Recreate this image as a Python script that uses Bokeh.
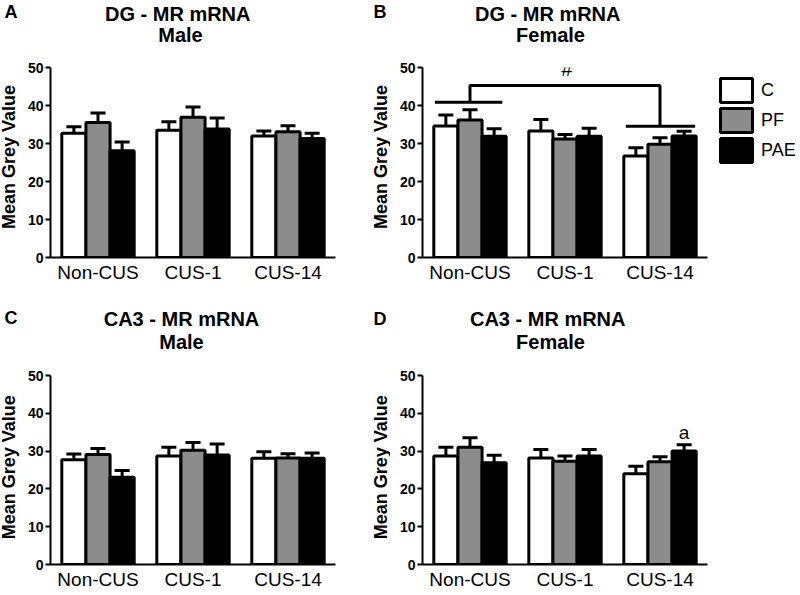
from bokeh.plotting import figure
from bokeh.models import (ColumnDataSource, Whisker, TeeHead, Label, Legend, LegendItem,
                          FactorRange, Spacer)
from bokeh.transform import dodge
from bokeh.layouts import row, column
from bokeh.embed import file_html
from bokeh.resources import INLINE

# ---------------- data ----------------
categories = ["Non-CUS", "CUS-1", "CUS-14"]
groups = ["C", "PF", "PAE"]
y_ticks = [0, 10, 20, 30, 40, 50]

# Panel A: DG - MR mRNA, Male
A_C = [32.7, 33.5, 32.0]
A_C_sem = [1.7, 2.2, 1.3]
A_PF = [35.5, 36.9, 33.1]
A_PF_sem = [2.5, 2.7, 1.6]
A_PAE = [28.1, 33.8, 31.3]
A_PAE_sem = [2.3, 2.9, 1.4]

# Panel B: DG - MR mRNA, Female
B_C = [34.6, 33.3, 26.7]
B_C_sem = [2.9, 3.0, 2.2]
B_PF = [36.2, 31.2, 29.8]
B_PF_sem = [2.7, 1.2, 1.7]
B_PAE = [31.9, 31.9, 32.0]
B_PAE_sem = [2.0, 2.1, 1.2]

# Panel C: CA3 - MR mRNA, Male
C_C = [27.7, 28.7, 28.1]
C_C_sem = [1.5, 2.3, 1.7]
C_PF = [29.1, 30.2, 28.2]
C_PF_sem = [1.6, 2.1, 1.1]
C_PAE = [23.1, 29.0, 28.1]
C_PAE_sem = [1.8, 2.9, 1.4]

# Panel D: CA3 - MR mRNA, Female
D_C = [28.7, 28.2, 24.0]
D_C_sem = [2.3, 2.2, 2.0]
D_PF = [31.0, 27.3, 27.2]
D_PF_sem = [2.5, 1.4, 1.3]
D_PAE = [26.9, 28.7, 30.0]
D_PAE_sem = [2.0, 1.7, 1.7]

FONT = "Liberation Sans"
COLORS = {"C": "white", "PF": "#8c8c8c", "PAE": "black"}
OFFSETS = {"C": -0.254, "PF": 0.0, "PAE": 0.254}
BAR_W = 0.254


def blank_fig(width, height):
    f = figure(width=width, height=height, x_range=(0, width), y_range=(height, 0),
               output_backend="svg", toolbar_location=None,
               x_axis_location=None, y_axis_location=None,
               min_border_left=0, min_border_right=0, min_border_top=0,
               min_border_bottom=0)
    f.outline_line_color = None
    f.grid.grid_line_color = None
    return f


def text(fig, x, y, t, size, bold=False, align="left", angle=0.0):
    fig.add_layout(Label(x=x, y=y, text=t, text_align=align,
                         text_baseline="middle", text_font=FONT,
                         text_font_style="bold" if bold else "normal",
                         text_font_size=f"{size}px", text_color="black",
                         angle=angle))


def make_header(width, height, letter, letter_x, letter_y, title1, title2,
                title_x, t1_y, t2_y):
    h = blank_fig(width, height)
    text(h, letter_x, letter_y, letter, 18, bold=True)
    text(h, title_x, t1_y, title1, 20, bold=True, align="center")
    text(h, title_x, t2_y, title2, 20, bold=True, align="center")
    return h


def make_ylabel(width, height, x_center, y_center):
    f = blank_fig(width, height)
    text(f, x_center, y_center, "Mean Grey Value", 18, bold=True,
         align="center", angle=1.5708)
    return f


def bar_sources(series):
    out = {}
    for g in groups:
        mean, sem = series[g]
        out[g] = ColumnDataSource(dict(cat=categories, mean=mean,
                                       upper=[m + s for m, s in zip(mean, sem)]))
    return out


def make_panel(srcs, width, height, b_left, b_right, b_top, b_bottom):
    p = figure(x_range=FactorRange(*categories), y_range=(0, 50),
               width=width, height=height, output_backend="svg",
               toolbar_location=None, min_border_left=b_left,
               min_border_right=b_right, min_border_top=b_top,
               min_border_bottom=b_bottom)
    p.outline_line_color = None
    p.grid.grid_line_color = None

    for g in groups:
        src = srcs[g]
        p.vbar(x=dodge("cat", OFFSETS[g], range=p.x_range), top="mean",
               width=BAR_W, source=src, fill_color=COLORS[g],
               line_color="black", line_width=3)
        w = Whisker(source=src, base=dodge("cat", OFFSETS[g], range=p.x_range),
                    lower="mean", upper="upper", dimension="height",
                    line_width=3, line_color="black",
                    upper_head=TeeHead(size=15, line_width=3, line_color="black"),
                    lower_head=None)
        p.add_layout(w)

    p.yaxis.ticker = y_ticks
    p.yaxis.major_label_text_font = FONT
    p.yaxis.major_label_text_font_style = "bold"
    p.yaxis.major_label_text_font_size = "14px"
    p.yaxis.major_label_text_color = "black"
    p.yaxis.major_label_standoff = 2
    p.yaxis.major_tick_out = 5
    p.yaxis.major_tick_in = 0
    p.yaxis.minor_tick_out = 0
    p.yaxis.minor_tick_in = 0
    p.yaxis.axis_line_width = 2
    p.yaxis.major_tick_line_width = 2

    p.xaxis.major_label_text_font = FONT
    p.xaxis.major_label_text_font_size = "19px"
    p.xaxis.major_label_text_color = "black"
    p.xaxis.major_label_standoff = 4
    p.xaxis.major_tick_out = 0
    p.xaxis.major_tick_in = 0
    p.xaxis.axis_line_width = 2
    return p


def make_legend_fig(srcs, width, height):
    # key box: renderers share panel B's data, but this view's single factor
    # matches none of the categories, so only the legend swatches are drawn
    f = figure(width=width, height=height, x_range=FactorRange("key"),
               y_range=(0, 50), output_backend="svg", toolbar_location=None,
               x_axis_location=None, y_axis_location=None,
               min_border_left=0, min_border_right=0, min_border_top=0,
               min_border_bottom=0)
    f.outline_line_color = None
    f.grid.grid_line_color = None
    items = []
    for g in groups:
        r = f.vbar(x="cat", top="mean", width=BAR_W, source=srcs[g],
                   fill_color=COLORS[g], line_color="black", line_width=3)
        items.append(LegendItem(label=g, renderers=[r]))
    lg = Legend(items=items, location="top_left", glyph_width=40, glyph_height=30,
                spacing=0, padding=0, margin=4, label_standoff=5,
                label_text_font=FONT, label_text_font_size="18px",
                label_text_color="black",
                border_line_alpha=0, background_fill_alpha=0)
    f.add_layout(lg)
    return f


srcA = bar_sources({"C": (A_C, A_C_sem), "PF": (A_PF, A_PF_sem), "PAE": (A_PAE, A_PAE_sem)})
srcB = bar_sources({"C": (B_C, B_C_sem), "PF": (B_PF, B_PF_sem), "PAE": (B_PAE, B_PAE_sem)})
srcC = bar_sources({"C": (C_C, C_C_sem), "PF": (C_PF, C_PF_sem), "PAE": (C_PAE, C_PAE_sem)})
srcD = bar_sources({"C": (D_C, D_C_sem), "PF": (D_PF, D_PF_sem), "PAE": (D_PAE, D_PAE_sem)})

# headers (titles + panel letters)
hA = make_header(360, 48, "A", 4, 11.8, "DG -  MR mRNA", "Male", 180, 13.1, 34.8)
hB = make_header(438, 48, "B", 13, 11.8, "DG -  MR mRNA", "Female", 190, 13.1, 34.8)
hC = make_header(360, 62, "C", 4, 27.8, "CA3 - MR mRNA", "Male", 181, 28.1, 51.4)
hD = make_header(438, 62, "D", 13, 28.8, "CA3 -  MR mRNA", "Female", 190, 28.1, 51.4)

# y-axis titles
lA = make_ylabel(22, 242, 8.8, 114)
lB = make_ylabel(30, 242, 20.5, 114)
lC = make_ylabel(22, 242, 8.8, 117.5)
lD = make_ylabel(30, 242, 20.5, 117.5)

pA = make_panel(srcA, 338, 242, 28, 25, 19, 33)
pB = make_panel(srcB, 322, 242, 32, 5, 19, 33)
pC = make_panel(srcC, 338, 242, 28, 25, 23, 30)
pD = make_panel(srcD, 408, 242, 32, 91, 23, 30)

legB = make_legend_fig(srcB, 86, 100)

# significance bracket in panel B
pB.line(x=[0.13, 0.84], y=[40.87, 40.87], line_color="black", line_width=3)
pB.line(x=[2.14, 2.87], y=[34.55, 34.55], line_color="black", line_width=3)
pB.line(x=[0.5, 0.5, 2.5, 2.5], y=[40.87, 45.26, 45.26, 34.55],
        line_color="black", line_width=3)
text(pB, 1.52, 49.7, "#", 20, align="center")

# "a" marker in panel D
text(pD, 2.5 + OFFSETS["PAE"], 34.8, "a", 19, align="center")

layout = column(row(hA, hB),
                row(lA, pA, lB, pB, column(Spacer(width=86, height=23), legB)),
                row(hC, hD),
                row(lC, pC, lD, pD))

with open("out.html", "w") as f:
    f.write(file_html(layout, INLINE))
